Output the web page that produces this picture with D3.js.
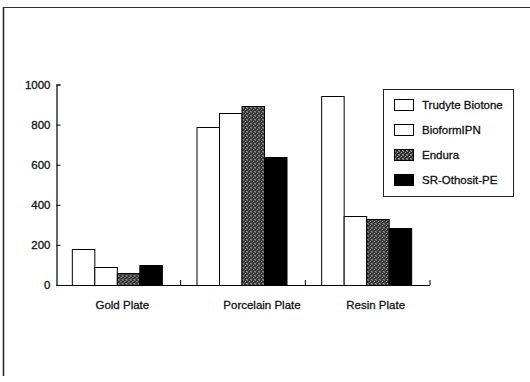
<!DOCTYPE html>
<html>
<head>
<meta charset="utf-8">
<script src="https://cdn.jsdelivr.net/npm/d3@7"></script>
<style>
  body { margin: 0; background: #fff; }
  svg text { font-family: "Liberation Sans", Arial, sans-serif; font-size: 11.5px; fill: #111; stroke: #111; stroke-width: 0.3px; }
</style>
</head>
<body>
<div id="chart"></div>
<script>
// data
const categories = ['Gold Plate', 'Porcelain Plate', 'Resin Plate']
const series = ['Trudyte Biotone', 'BioformIPN', 'Endura', 'SR-Othosit-PE']
const trudyte = [180, 788, 945]
const bioform = [90, 860, 346]
const endura = [58, 892, 327]
const srOthosit = [98, 640, 282]
const yTicks = [0, 200, 400, 600, 800, 1000]

const values = [trudyte, bioform, endura, srOthosit]

const width = 530, height = 382
const plot = {left: 56, right: 430, top: 84.5, bottom: 285}
const labelShift = [4, 19, 8]   // category labels sit a little off centre in the original

const svg = d3.select('#chart').append('svg')
    .attr('width', width)
    .attr('height', height)

// speckled grey fill for Endura
const defs = svg.append('defs')
const pat = defs.append('pattern')
    .attr('id', 'speckle')
    .attr('width', 4).attr('height', 4)
    .attr('patternUnits', 'userSpaceOnUse')
pat.append('rect').attr('width', 4).attr('height', 4).attr('fill', '#2e2e2e')
const dots = [[0, 0, '#8a8a8a'], [2, 1, '#b8b8b8'], [1, 2, '#6a6a6a'], [3, 3, '#a0a0a0'], [3, 0, '#4c4c4c'], [0, 3, '#777']]
dots.forEach(d => pat.append('rect').attr('x', d[0]).attr('y', d[1]).attr('width', 1).attr('height', 1).attr('fill', d[2]))

const fills = ['#fff', '#fff', 'url(#speckle)', '#000']

// page frame (left and top edges visible in the scan)
svg.append('line').attr('x1', 3.5).attr('y1', 7).attr('x2', 3.5).attr('y2', 376)
    .attr('stroke', '#222').attr('stroke-width', 1.5)
svg.append('line').attr('x1', 3).attr('y1', 7.5).attr('x2', 530).attr('y2', 7.5)
    .attr('stroke', '#333').attr('stroke-width', 1)

const x0 = d3.scaleBand()
    .domain(categories)
    .range([plot.left, plot.right])
    .padding(0)

const x1 = d3.scaleBand()
    .domain(series)
    .range([0, x0.bandwidth()])
    .paddingInner(0)
    .paddingOuter(0.77)

const y = d3.scaleLinear()
    .domain([0, 1000])
    .range([plot.bottom, plot.top])

// bars
const groups = svg.append('g').selectAll('g')
    .data(categories)
    .join('g')
    .attr('transform', d => `translate(${x0(d) - 1.5},0)`)

groups.selectAll('rect')
    .data((c, ci) => series.map((s, si) => ({s, si, v: values[si][ci]})))
    .join('rect')
    .attr('x', d => x1(d.s) + 0.5)
    .attr('y', d => Math.round(y(d.v)) + 0.5)
    .attr('width', x1.bandwidth())
    .attr('height', d => plot.bottom - Math.round(y(d.v)))
    .attr('fill', d => fills[d.si])
    .attr('stroke', '#000')
    .attr('stroke-width', 1)

// y axis, ticks point inward
const yAxis = svg.append('g')
    .attr('transform', `translate(${plot.left + 0.5},0)`)
    .call(d3.axisLeft(y).tickValues(yTicks).tickSize(-4).tickPadding(6).tickFormat(d3.format('d')))
yAxis.select('.domain').attr('stroke', '#000').attr('stroke-width', 1.2)
yAxis.selectAll('.tick line').attr('stroke', '#000')
yAxis.selectAll('.tick text')
    .style('font-size', '11.5px')
    .style('font-family', '"Liberation Sans", Arial, sans-serif')
    .attr('fill', '#111')

// x axis: baseline with small upward ticks at the group boundaries
const xAxis = svg.append('g')
xAxis.append('line')
    .attr('x1', plot.left).attr('x2', plot.right)
    .attr('y1', plot.bottom + 0.5).attr('y2', plot.bottom + 0.5)
    .attr('stroke', '#000').attr('stroke-width', 1.2)
const bounds = categories.map(c => x0(c)).concat([x0.range()[1]])
xAxis.selectAll('.xtick')
    .data(bounds.slice(1))
    .join('line')
    .attr('class', 'xtick')
    .attr('x1', d => d).attr('x2', d => d)
    .attr('y1', plot.bottom).attr('y2', plot.bottom - 5)
    .attr('stroke', '#000')
xAxis.selectAll('.xlabel')
    .data(categories)
    .join('text')
    .attr('class', 'xlabel')
    .attr('x', (d, i) => x0(d) + x0.bandwidth() / 2 + labelShift[i])
    .attr('y', 309)
    .attr('text-anchor', 'middle')
    .text(d => d)

// legend
const legend = svg.append('g').attr('transform', 'translate(383,89)')
legend.append('rect')
    .attr('x', 0.5).attr('y', 0.5)
    .attr('width', 130).attr('height', 107)
    .attr('fill', '#fff')
    .attr('stroke', '#222')
const items = legend.selectAll('.item')
    .data(series)
    .join('g')
    .attr('class', 'item')
    .attr('transform', (d, i) => `translate(0,${16 + i * 25})`)
items.append('rect')
    .attr('x', 11.5).attr('y', -5.5)
    .attr('width', 19).attr('height', 11)
    .attr('fill', (d, i) => fills[i])
    .attr('stroke', '#000')
items.append('text')
    .attr('x', 39)
    .attr('y', 4)
    .text(d => d)
</script>
</body>
</html>
